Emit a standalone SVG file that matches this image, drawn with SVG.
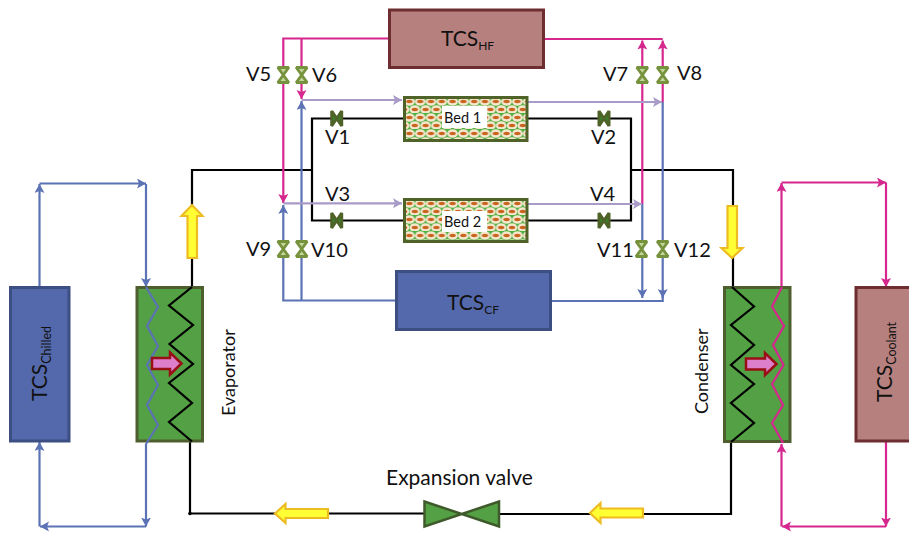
<svg xmlns="http://www.w3.org/2000/svg" width="909" height="533" viewBox="0 0 909 533">
<style>
text{font-family:"Lato","Liberation Sans",sans-serif;fill:#111}
.lb{font-size:20px}
.rl{font-size:18px}
.bl{fill:none;stroke:#000;stroke-width:2.200}
.bu{fill:none;stroke:#5B73B5;stroke-width:2.200}
.mg{fill:none;stroke:#D6278E;stroke-width:2.200}
.pu{fill:none;stroke:#A99BC8;stroke-width:2.200}
.bb{fill:#5469AB;stroke:#3D4F82;stroke-width:3}
.rb{fill:#B5807E;stroke:#6E2E31;stroke-width:3}
.hx{fill:#54A044;stroke:#4E5E2E;stroke-width:3}
.vv{fill:#C2D69B;stroke:#76923C;stroke-width:2.800;stroke-linejoin:bevel}
.vh{fill:#2E8B2E;stroke:#4F6228;stroke-width:3;stroke-linejoin:bevel}
.ya{fill:#FFFF33;stroke:#EDBB22;stroke-width:2.200}
.ra{fill:#DD7FCB;stroke:#990F15;stroke-width:2.500}
</style>
<defs>
<pattern id="pk" width="10.800" height="16" patternUnits="userSpaceOnUse" x="404" y="97">
<rect width="10.800" height="16" fill="#4CB040"/>
<ellipse cx="5.400" cy="4.500" rx="5.300" ry="4.300" fill="#F6E7CF"/>
<ellipse cx="5.400" cy="4.500" rx="3.200" ry="1.700" fill="#C8651E"/>
<ellipse cx="0" cy="12.500" rx="5.300" ry="4.300" fill="#F6E7CF"/>
<ellipse cx="10.800" cy="12.500" rx="5.300" ry="4.300" fill="#F6E7CF"/>
<ellipse cx="0" cy="12.500" rx="3.200" ry="1.700" fill="#C8651E"/>
<ellipse cx="10.800" cy="12.500" rx="3.200" ry="1.700" fill="#C8651E"/>
</pattern>
<pattern id="pk2" href="#pk" x="404" y="199"/>
<marker id="ab" markerUnits="userSpaceOnUse" markerWidth="12" markerHeight="12" refX="9" refY="5" orient="auto"><path d="M0 0L9 5L0 10L2 5Z" fill="#5B73B5"/></marker>
<marker id="am" markerUnits="userSpaceOnUse" markerWidth="12" markerHeight="12" refX="9" refY="5" orient="auto"><path d="M0 0L9 5L0 10L2 5Z" fill="#D6278E"/></marker>
<marker id="ap" markerUnits="userSpaceOnUse" markerWidth="12" markerHeight="12" refX="9" refY="5" orient="auto"><path d="M0 0L9 5L0 10L2 5Z" fill="#A99BC8"/></marker>
<path id="vvs" d="M-5.500-7.500H5.500L-5.500 7.500H5.500Z"/>
<path id="vhs" d="M-5-7.500V7.500L5-7.500V7.500Z"/>
</defs>
<g id="connectors">
<path class="bl" d="M404 118.500H312V220.500H404M528 118.500H631V220.500H528M192 286V170H312M631 170H733V287M190 441V513.500H424M500 514H731V441"/>
<circle cx="190" cy="513.500" r="1.800" fill="#000"/>
<path class="bu" d="M39.500 287V184" marker-end="url(#ab)"/>
<path class="bu" d="M39.500 183.500H146" marker-end="url(#ab)"/>
<path class="bu" d="M146 184V287" marker-end="url(#ab)"/>
<path class="bu" d="M146 444V526.500" marker-end="url(#ab)"/>
<path class="bu" d="M146 526.500H40" marker-end="url(#ab)"/>
<path class="bu" d="M39.500 526.500V442" marker-end="url(#ab)"/>
<path class="mg" d="M781.500 287V183" marker-end="url(#am)"/>
<path class="mg" d="M781.500 182.500H886" marker-end="url(#am)"/>
<path class="mg" d="M886 182.500V287" marker-end="url(#am)"/>
<path class="mg" d="M886 441V526.500" marker-end="url(#am)"/>
<path class="mg" d="M886 526.500H782" marker-end="url(#am)"/>
<path class="mg" d="M781.500 526.500V444" marker-end="url(#am)"/>
<path class="mg" d="M389 38.500H283.300V203" marker-end="url(#am)"/>
<path class="mg" d="M301.500 38.500V99" marker-end="url(#am)"/>
<path class="mg" d="M541 39H662.700"/>
<path class="mg" d="M642.300 204V40.500" marker-end="url(#am)"/>
<path class="mg" d="M662.700 102V40.500" marker-end="url(#am)"/>
<path class="bu" d="M396 300.500H283.300V205" marker-end="url(#ab)"/>
<path class="bu" d="M301.500 300.500V101" marker-end="url(#ab)"/>
<path class="bu" d="M551 301H662.700V102"/>
<path class="bu" d="M642.300 204V298" marker-end="url(#ab)"/>
<path class="bu" d="M662.700 290V298" marker-end="url(#ab)"/>
<path class="pu" d="M301.500 100H402" marker-end="url(#ap)"/>
<path class="pu" d="M283.300 203.300H402" marker-end="url(#ap)"/>
<path class="pu" d="M526 102H662" marker-end="url(#ap)"/>
<path class="pu" d="M526 204H642" marker-end="url(#ap)"/>
</g>
<g id="tcs-hf"><rect class="rb" x="389.500" y="10" width="154" height="57.500"/><text x="441" y="46" font-size="21">TCS<tspan font-size="12" dy="4">HF</tspan></text></g>
<g id="tcs-cf"><rect class="bb" x="396.500" y="271.500" width="154" height="58"/><text x="447" y="310" font-size="21">TCS<tspan font-size="12" dy="4">CF</tspan></text></g>
<g id="tcs-chilled"><rect class="bb" x="10.500" y="287.500" width="58.500" height="153.500"/><text transform="translate(47 401) rotate(-90)" font-size="21">TCS<tspan font-size="12.500" dy="4">Chilled</tspan></text></g>
<g id="tcs-coolant"><rect class="rb" x="856" y="287.500" width="60" height="153.500"/><text transform="translate(892 402) rotate(-90)" font-size="21">TCS<tspan font-size="12.500" dy="4">Coolant</tspan></text></g>
<g id="evaporator"><rect class="hx" x="137" y="287.500" width="65.500" height="153.500"/>
<path class="bl" d="M192 287L169 305.500L193 325L169.500 344L193 364L169 383L192 403L169 422L192 441.500"/>
<path class="bu" d="M146 287L158 307L147 326L158 346L147 365L158 385L147 405L158 425L146 444"/>
<path class="ra" d="M152 358H170V352.500L181.500 363.500L170 374.500V369H152Z"/>
<text transform="translate(235 416) rotate(-90)" class="rl">Evaporator</text></g>
<g id="condenser"><rect class="hx" x="724.500" y="287.500" width="65.500" height="154"/>
<path class="bl" d="M732 287L754 306.500L731 325L754 345L731 365L754 384L731 403L754 423L731 442"/>
<path class="mg" d="M782 287L772 306.500L784 326L773 345L783.500 365L772 384L783 405L772 423L783 443"/>
<path class="ra" d="M746 358.500H765V353L776.500 364L765 375V369.500H746Z"/>
<text transform="translate(708 414) rotate(-90)" class="rl">Condenser</text></g>
<g id="bed-1"><rect x="404.500" y="97.500" width="122.500" height="43" fill="url(#pk)" stroke="#4F6228" stroke-width="3"/><rect x="442" y="106" width="45" height="22" fill="#fff"/><text x="444" y="123" font-size="14.500">Bed 1</text></g>
<g id="bed-2"><rect x="404.500" y="199.500" width="122.500" height="42" fill="url(#pk2)" stroke="#4F6228" stroke-width="3"/><rect x="442" y="211" width="45" height="21" fill="#fff"/><text x="444" y="227" font-size="14.500">Bed 2</text></g>
<g id="expansion-valve"><path d="M424.500 501.500V526.500L499 501.500V526.500Z" fill="#54A044" stroke="#3F5A2A" stroke-width="2.500"/><text x="386" y="485" font-size="21">Expansion valve</text></g>
<g id="arrows">
<path class="ya" d="M187.500 258V216H181.500L192 205L202.500 216H197V258Z"/>
<path class="ya" d="M727.500 206H737V248H742.500L732 258L721.500 248H727.500Z"/>
<path class="ya" d="M328 509V518H285.500V523L275 513.500L285.500 504V509Z"/>
<path class="ya" d="M643 508.500V517.500H600.500V523L590 513L600.500 503V508.500Z"/>
</g>
<g id="v5"><use href="#vvs" class="vv" x="283.300" y="75"/><text class="lb" x="246" y="81">V5</text></g>
<g id="v6"><use href="#vvs" class="vv" x="301.700" y="75"/><text class="lb" x="312" y="82">V6</text></g>
<g id="v7"><use href="#vvs" class="vv" x="642.300" y="75"/><text class="lb" x="603" y="81">V7</text></g>
<g id="v8"><use href="#vvs" class="vv" x="662.700" y="75"/><text class="lb" x="677" y="80">V8</text></g>
<g id="v9"><use href="#vvs" class="vv" x="283.300" y="249"/><text class="lb" x="246" y="256">V9</text></g>
<g id="v10"><use href="#vvs" class="vv" x="301.700" y="249"/><text class="lb" x="311" y="257">V10</text></g>
<g id="v11"><use href="#vvs" class="vv" x="641.500" y="249"/><text class="lb" x="597" y="257">V11</text></g>
<g id="v12"><use href="#vvs" class="vv" x="662.700" y="249"/><text class="lb" x="674" y="257">V12</text></g>
<g id="v1"><use href="#vhs" class="vh" x="336.700" y="118.500"/><text class="lb" x="325" y="144">V1</text></g>
<g id="v2"><use href="#vhs" class="vh" x="604" y="118.500"/><text class="lb" x="591" y="144">V2</text></g>
<g id="v3"><use href="#vhs" class="vh" x="336.700" y="220.500"/><text class="lb" x="325" y="201">V3</text></g>
<g id="v4"><use href="#vhs" class="vh" x="604" y="220.500"/><text class="lb" x="590" y="201">V4</text></g>
</svg>
